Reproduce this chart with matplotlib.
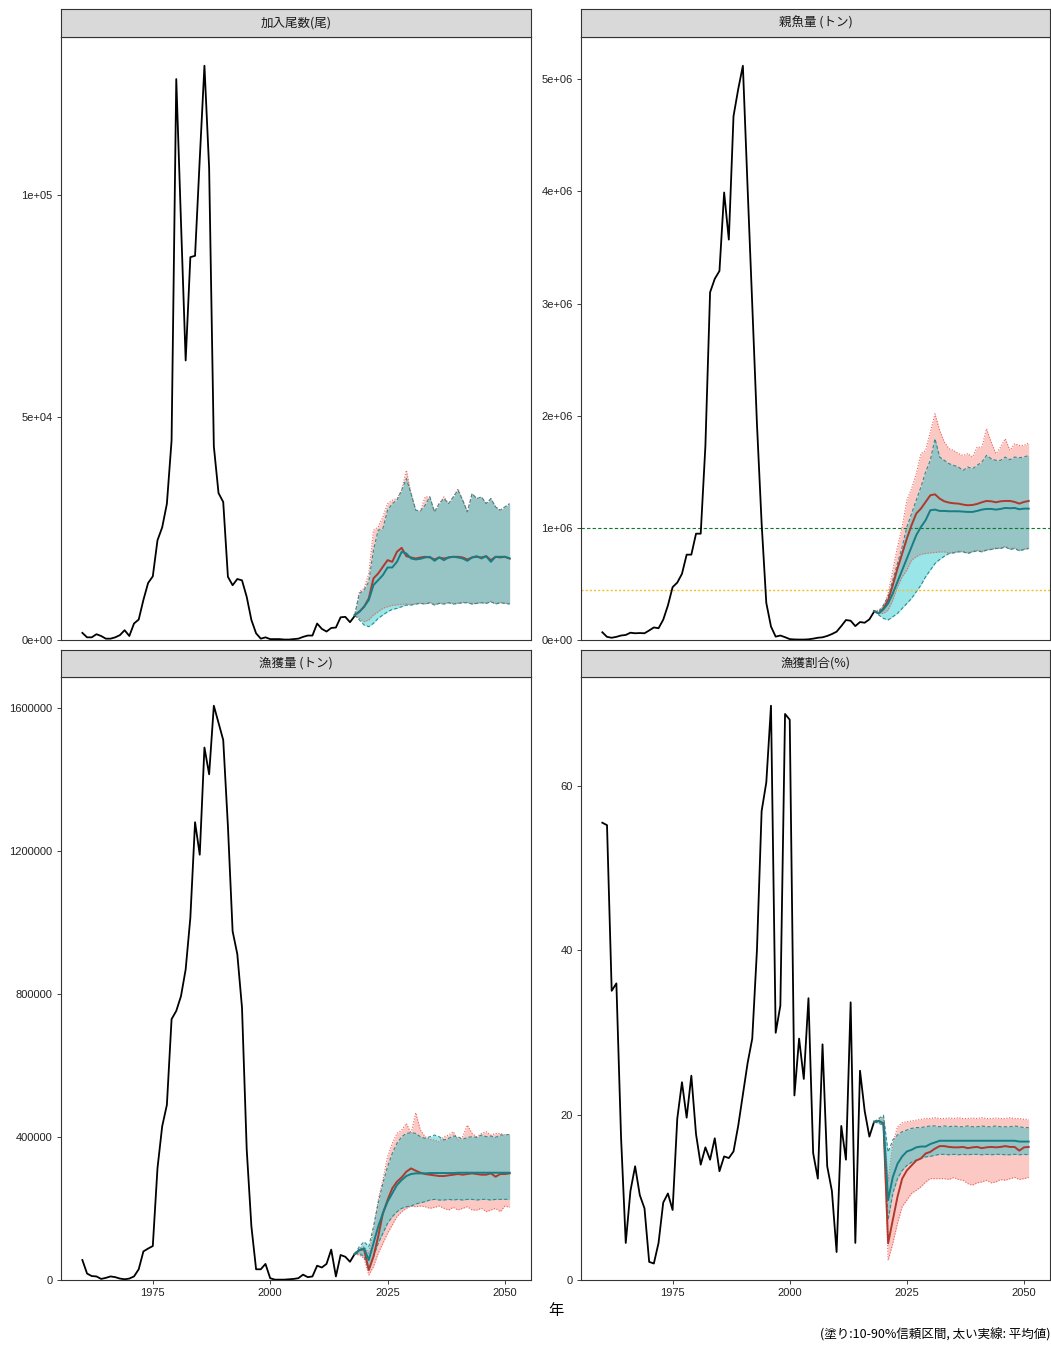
import numpy as np
import matplotlib
matplotlib.use("Agg")
import matplotlib.pyplot as plt

plt.rcParams['font.family'] = ['Liberation Sans', 'Noto Sans CJK JP', 'DejaVu Sans']

# ---- data ----
hist_years = np.arange(1960, 2019)
proj_years = np.arange(2018, 2052)

titles = ["加入尾数(尾)", "親魚量 (トン)", "漁獲量 (トン)", "漁獲割合(%)"]

rec_hist = [1600, 600, 600, 1300, 900, 300, 300, 600, 1100, 2200, 900, 3700, 4600, 9000, 12800,
            14300, 22400, 25300, 30600, 44800, 126000, 94000, 62800, 86000, 86300, 108000, 129000,
            106000, 43500, 33000, 31000, 14200, 12300, 13700, 13400, 9700, 4500, 1500, 300, 600,
            200, 200, 200, 100, 100, 200, 300, 700, 1000, 1000, 3700, 2500, 1900, 2700, 2800,
            5100, 5200, 4000, 5400]
rec_mean_a = [5600, 6350, 7480, 9340, 13830, 14950, 16440, 17940, 17560, 19810, 20700, 18830, 18540,
              18310, 18540, 18690, 18540, 18090, 18540, 18310, 18540, 18690, 18690, 18540, 18090,
              18540, 18690, 18540, 18830, 17940, 18690, 18540, 18690, 18310]
rec_lo_a = [5600, 4860, 4110, 4490, 5610, 6350, 7100, 7480, 7780, 7900, 8000, 8100, 8000, 8200, 8300,
            8200, 8450, 8000, 8300, 8200, 8450, 8200, 8300, 8450, 8450, 8200, 8300, 8450, 8300, 8700,
            8200, 8450, 8300, 8200]
rec_hi_a = [5600, 10840, 11590, 14950, 24660, 25410, 27650, 30640, 31390, 31760, 33630, 38120, 32880,
            29150, 29000, 32140, 32140, 28770, 30640, 32140, 30640, 32140, 34000, 31390, 28770, 32880,
            31760, 32140, 30640, 31760, 29890, 29150, 29890, 30640]
rec_mean_b = [5600, 6350, 7480, 8970, 12330, 13450, 14570, 16290, 16290, 17560, 19810, 19430, 18310,
              18090, 18240, 18540, 18690, 17790, 18540, 17940, 18540, 18690, 18540, 18310, 17790,
              18540, 18830, 18310, 18830, 17560, 18690, 18690, 18690, 18310]
rec_lo_b = [5600, 4490, 3370, 2990, 3740, 4860, 5610, 6350, 6880, 7100, 7480, 7850, 7850, 8070, 8220,
            8070, 8370, 7850, 8220, 8070, 8370, 8070, 8220, 8370, 8370, 8070, 8220, 8370, 8220, 8600,
            8070, 8370, 8220, 8070]
rec_hi_b = [5600, 10460, 11210, 13080, 20180, 24660, 25040, 29150, 30640, 31390, 33630, 36250, 32880,
            29150, 29000, 30270, 32140, 28770, 30640, 31760, 30640, 32140, 33630, 31390, 28770, 32880,
            31760, 32140, 30640, 31760, 29890, 29150, 29890, 30640]

ssb_hist = [69000, 28000, 20000, 28000, 40000, 45000, 65000, 60000, 62000, 60000, 85000, 112000,
            105000, 181000, 308000, 471000, 512000, 590000, 761000, 761000, 948000, 948000, 1730000,
            3100000, 3220000, 3290000, 3990000, 3570000, 4670000, 4910000, 5120000, 4040000,
            2990000, 1930000, 1040000, 330000, 120000, 30000, 40000, 25000, 8000, 5000, 4000, 4000,
            6000, 12000, 20000, 24000, 36000, 53000, 74000, 124000, 178000, 172000, 124000, 160000,
            154000, 184000, 252000]
ssb_mean_a = [258000, 237200, 281700, 355900, 489300, 637600, 771100, 904500, 1023200, 1127000,
              1171400, 1230800, 1290100, 1299000, 1260400, 1236700, 1224800, 1218900, 1215900,
              1207000, 1201100, 1204100, 1213000, 1227800, 1239700, 1236700, 1227800, 1236700,
              1239700, 1239700, 1230800, 1215900, 1230800, 1239700]
ssb_lo_a = [258000, 237200, 237200, 266900, 355900, 474500, 563500, 622800, 711700, 741400, 765100,
            771100, 777000, 780000, 785000, 785000, 776100, 782000, 790900, 790900, 776100, 790900,
            799800, 790900, 805700, 811700, 820600, 820600, 835400, 811700, 820600, 799800, 811700,
            820600]
ssb_hi_a = [258000, 266900, 296600, 415200, 622800, 830400, 1008200, 1245600, 1349400, 1482800,
            1660800, 1690400, 1853500, 2016700, 1868400, 1764600, 1705300, 1690400, 1660800, 1645900,
            1660800, 1631100, 1720100, 1720100, 1883200, 1764600, 1660800, 1720100, 1794200, 1690400,
            1749700, 1734900, 1734900, 1755700]
ssb_mean_b = [258000, 237200, 272800, 326200, 415200, 518900, 622800, 726600, 830400, 934200,
              1008200, 1067600, 1156600, 1162500, 1150700, 1150700, 1147700, 1147700, 1147700,
              1144700, 1141800, 1141800, 1150700, 1162500, 1168500, 1168500, 1162500, 1168500,
              1177400, 1174400, 1177400, 1165500, 1171400, 1171400]
ssb_lo_b = [258000, 222400, 192700, 178000, 207600, 237200, 281700, 326200, 370700, 430000, 489300,
            563500, 622800, 682000, 717700, 747400, 771100, 777000, 785900, 785900, 771100, 785900,
            794800, 785900, 800700, 806700, 815600, 815600, 830400, 806700, 815600, 794800, 806700,
            815600]
ssb_hi_b = [258000, 252100, 311400, 385500, 533700, 682000, 830400, 1008200, 1127000, 1245600,
            1364200, 1497700, 1601500, 1794200, 1631100, 1601500, 1571800, 1557000, 1542100, 1512500,
            1542100, 1527300, 1557000, 1586600, 1645900, 1616300, 1601500, 1601500, 1631100, 1607400,
            1631100, 1625200, 1631100, 1645900]
ssb_target = 1000000
ssb_limit = 445000

catch_hist = [56000, 18000, 11000, 10000, 3000, 6000, 10000, 8000, 4000, 2000, 4000, 10000, 30000,
              80000, 88000, 95000, 313000, 430000, 490000, 730000, 753000, 794000, 869000, 1014000,
              1281000, 1190000, 1490000, 1415000, 1607000, 1559000, 1511000, 1270000, 976000, 912000,
              762000, 366000, 150000, 30000, 30000, 45000, 5000, 1000, 1000, 1000, 2000, 3000, 5000,
              15000, 8000, 10000, 40000, 35000, 45000, 85000, 10000, 70000, 65000, 51000, 73000]
catch_mean_a = [72700, 83900, 85800, 28000, 65300, 121200, 186500, 223800, 256400, 275100, 287200,
                303000, 312300, 305800, 300200, 296500, 294600, 292800, 290900, 290900, 292800,
                294600, 296500, 294600, 296500, 298400, 296500, 294600, 294600, 298400, 289000,
                296500, 296500, 298400]
catch_lo_a = [72700, 69900, 60600, 14000, 37300, 74600, 102600, 130500, 153900, 177200, 191100,
              200500, 207000, 205100, 207000, 205100, 200500, 203300, 207000, 200500, 195800, 203300,
              195800, 200500, 205100, 195800, 195800, 200500, 191100, 195800, 200500, 191100, 207000,
              203300]
catch_hi_a = [72700, 88600, 93300, 74600, 139900, 223800, 279700, 345000, 382300, 410200, 419600,
              438200, 410200, 468000, 419600, 400900, 393500, 391600, 386900, 400900, 405600, 414900,
              391600, 400900, 433500, 410200, 400900, 410200, 414900, 405600, 410200, 410200, 405600,
              407400]
catch_mean_b = [72700, 83900, 88600, 56000, 102600, 149200, 186500, 219100, 242400, 265700, 279700,
                290900, 296500, 298400, 298400, 298400, 299300, 299300, 299300, 299300, 299300,
                299300, 300200, 300200, 300200, 300200, 300200, 300200, 300200, 300200, 300200,
                300200, 300200, 300200]
catch_lo_b = [72700, 74600, 65300, 28000, 65300, 102600, 130500, 158500, 177200, 191100, 200500,
              205100, 207000, 212600, 216300, 219100, 223800, 225600, 223800, 223800, 225600, 223800,
              225600, 223800, 225600, 225600, 223800, 225600, 225600, 223800, 225600, 225600, 225600,
              225600]
catch_hi_b = [72700, 93300, 107200, 93300, 149200, 214500, 270400, 317000, 354300, 382300, 400900,
              410200, 412100, 410200, 400900, 396300, 400900, 405600, 400900, 391600, 396300, 402800,
              400900, 393500, 399000, 400900, 399000, 405600, 400900, 402800, 399000, 405600, 405600,
              407400]

rate_hist = [55.5, 55.2, 35.1, 36.0, 17.3, 4.5, 10.8, 13.8, 10.3, 8.7, 2.2, 2.0, 4.5, 9.4, 10.5, 8.5,
             19.6, 24.0, 19.7, 24.8, 17.7, 14.0, 16.1, 14.6, 17.2, 13.2, 15.0, 14.8, 15.6, 18.7, 22.5,
             26.3, 29.3, 40.0, 56.9, 60.4, 69.7, 30.0, 33.3, 68.7, 68.0, 22.4, 29.3, 24.4, 34.2, 15.4,
             12.3, 28.6, 13.8, 10.8, 3.4, 18.7, 14.6, 33.7, 4.5, 25.4, 20.5, 17.4, 19.2]
rate_mean_a = [19.2, 19.3, 19.0, 4.45, 7.3, 10.1, 12.3, 13.3, 13.9, 14.5, 14.75, 15.35, 15.55, 15.95,
               16.25, 16.25, 16.15, 16.1, 16.1, 16.15, 16.0, 16.1, 16.15, 16.0, 16.1, 16.15, 16.1,
               16.15, 16.25, 16.15, 16.15, 15.7, 16.1, 16.15]
rate_lo_a = [19.2, 19.2, 18.8, 2.4, 4.45, 6.9, 8.9, 9.7, 10.5, 10.9, 11.3, 11.9, 12.3, 12.3, 12.3,
             12.3, 12.2, 12.45, 12.2, 12.1, 11.7, 11.5, 11.8, 11.9, 12.1, 11.8, 11.9, 12.2, 12.1, 12.3,
             12.45, 12.2, 12.3, 12.45]
rate_hi_a = [19.2, 19.5, 19.8, 12.0, 16.5, 18.6, 19.1, 19.2, 19.3, 19.4, 19.5, 19.6, 19.6, 19.7, 19.6,
             19.6, 19.65, 19.6, 19.7, 19.6, 19.6, 19.65, 19.6, 19.7, 19.6, 19.6, 19.65, 19.6, 19.6,
             19.7, 19.6, 19.6, 19.5, 19.5]
rate_mean_b = [19.2, 19.3, 19.0, 9.7, 12.5, 14.1, 15.0, 15.6, 15.8, 16.1, 16.2, 16.2, 16.5, 16.7, 16.9,
               16.9, 16.9, 16.9, 16.9, 16.9, 16.9, 16.9, 16.9, 16.9, 16.9, 16.9, 16.9, 16.9, 16.9,
               16.9, 16.9, 16.8, 16.8, 16.8]
rate_lo_b = [19.2, 19.0, 18.8, 7.3, 10.5, 12.3, 13.3, 13.9, 14.3, 14.55, 14.75, 14.95, 15.0, 15.15,
             15.25, 15.25, 15.2, 15.25, 15.2, 15.25, 15.2, 15.25, 15.25, 15.2, 15.25, 15.2, 15.25,
             15.25, 15.2, 15.2, 15.25, 15.2, 15.25, 15.2]
rate_hi_b = [19.2, 19.6, 20.0, 15.5, 17.0, 17.6, 18.0, 18.2, 18.4, 18.5, 18.5, 18.6, 18.7, 18.7, 18.6,
             18.7, 18.6, 18.7, 18.6, 18.6, 18.7, 18.6, 18.6, 18.7, 18.6, 18.6, 18.7, 18.6, 18.6, 18.6,
             18.7, 18.6, 18.5, 18.5]

yticks = [[0, 50000, 100000], [0, 1e6, 2e6, 3e6, 4e6, 5e6],
          [0, 400000, 800000, 1200000, 1600000], [0, 20, 40, 60]]
ytick_labels = [["0e+00", "5e+04", "1e+05"],
                ["0e+00", "1e+06", "2e+06", "3e+06", "4e+06", "5e+06"],
                ["0", "400000", "800000", "1200000", "1600000"],
                ["0", "20", "40", "60"]]
xticks = [1975, 2000, 2025, 2050]

panels = [
    (rec_hist, rec_mean_a, rec_lo_a, rec_hi_a, rec_mean_b, rec_lo_b, rec_hi_b),
    (ssb_hist, ssb_mean_a, ssb_lo_a, ssb_hi_a, ssb_mean_b, ssb_lo_b, ssb_hi_b),
    (catch_hist, catch_mean_a, catch_lo_a, catch_hi_a, catch_mean_b, catch_lo_b, catch_hi_b),
    (rate_hist, rate_mean_a, rate_lo_a, rate_hi_a, rate_mean_b, rate_lo_b, rate_hi_b),
]

# ---- figure ----
W, H = 1051, 1345
fig = plt.figure(figsize=(W / 100, H / 100), dpi=100)

# pixel boxes: left, top of strip, top of panel, bottom of panel, right
boxes = [(61, 9, 37, 640, 531), (581, 9, 37, 640, 1050),
         (61, 650, 677, 1280, 531), (581, 650, 677, 1280, 1050)]

col_a_fill, col_a_line, col_a_edge = "#F8766D", "#B0392E", "#E8655D"
col_b_fill, col_b_line, col_b_edge = "#00BFC4", "#177E85", "#2E8C90"
border = "#333333"

for i, (box, data) in enumerate(zip(boxes, panels)):
    left, stop, ptop, pbot, right = box
    hist, ma, la, ha, mb, lb, hb = data
    ax = fig.add_axes([left / W, 1 - pbot / H, (right - left) / W, (pbot - ptop) / H])

    ax.fill_between(proj_years, la, ha, color=col_a_fill, alpha=0.4, lw=0)
    ax.plot(proj_years, la, color=col_a_edge, lw=0.8, ls=(0, (1, 1.5)))
    ax.plot(proj_years, ha, color=col_a_edge, lw=0.8, ls=(0, (1, 1.5)))
    ax.fill_between(proj_years, lb, hb, color=col_b_fill, alpha=0.4, lw=0)
    ax.plot(proj_years, lb, color=col_b_edge, lw=0.8, ls=(0, (3, 2)))
    ax.plot(proj_years, hb, color=col_b_edge, lw=0.8, ls=(0, (3, 2)))

    if i == 1:
        ax.axhline(ssb_target, color="#0a7a30", lw=0.8, ls=(0, (3, 2)))
        ax.axhline(ssb_limit, color="#f0c030", lw=1.0, ls=(0, (1.5, 1.5)))

    ax.plot(hist_years, hist, color="black", lw=1.3)
    ax.plot(proj_years, ma, color=col_a_line, lw=1.4)
    ax.plot(proj_years, mb, color=col_b_line, lw=1.4)

    ymax = max(max(hist), max(ha), max(hb)) * 1.05
    ax.set_ylim(0, ymax)
    ax.set_xlim(1955.45, 2055.55)
    ax.set_yticks(yticks[i])
    ax.set_yticklabels(ytick_labels[i])
    if i >= 2:
        ax.set_xticks(xticks)
        ax.set_xticklabels([str(x) for x in xticks])
    else:
        ax.set_xticks([])
    ax.tick_params(labelsize=8, colors="#222222", length=3, width=0.6, pad=3)
    for s in ax.spines.values():
        s.set_color(border)
        s.set_linewidth(0.8)

    # facet strip
    sax = fig.add_axes([left / W, 1 - ptop / H, (right - left) / W, (ptop - stop) / H])
    sax.set_facecolor("#D9D9D9")
    sax.set_xticks([])
    sax.set_yticks([])
    for s in sax.spines.values():
        s.set_color(border)
        s.set_linewidth(0.8)
    sax.text(0.5, 0.5, titles[i], ha="center", va="center", fontsize=9, color="#1a1a1a",
             family=["Noto Sans CJK JP", "DejaVu Sans"], transform=sax.transAxes)

fig.text(556 / W, 1 - 1310 / H, "年", ha="center", va="center", fontsize=11,
         family=["Noto Sans CJK JP", "DejaVu Sans"])
fig.text(1050 / W, 1 - 1335 / H, "(塗り:10-90%信頼区間, 太い実線: 平均値)", ha="right", va="center",
         fontsize=9, family=["Noto Sans CJK JP", "DejaVu Sans"])

fig.savefig("out.png", dpi=100)
